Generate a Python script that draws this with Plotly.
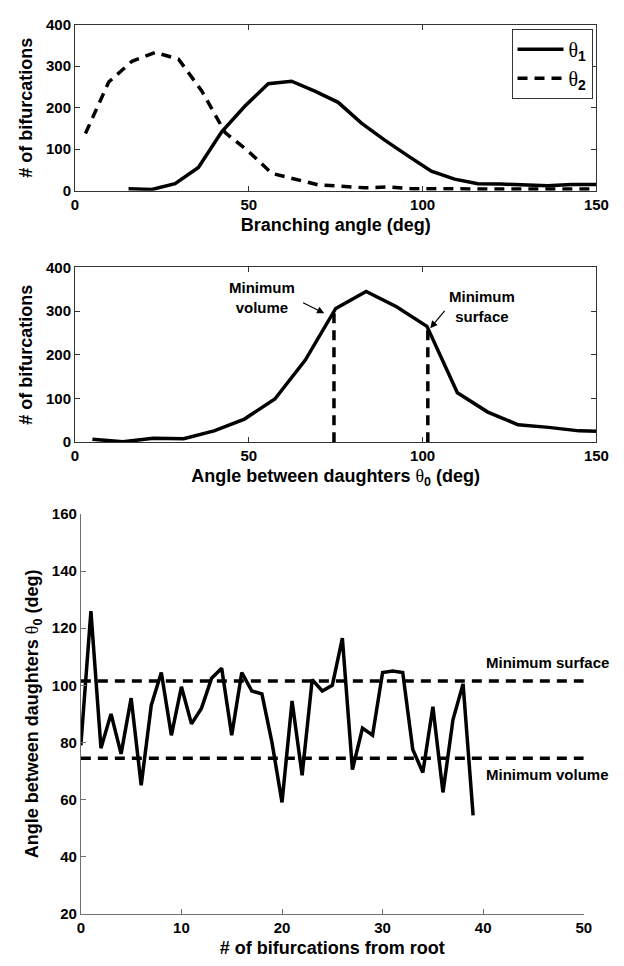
import plotly.graph_objects as go

# ---------------- data ----------------
theta1_x = [15.4, 22.1, 28.8, 35.5, 42.2, 48.9, 55.6, 62.3, 69.0, 75.7, 82.4,
            89.1, 95.8, 102.5, 109.2, 115.9, 122.6, 129.3, 136.0, 142.7, 150.0]
theta1_y = [5, 3, 17, 56, 142, 204, 258, 264, 240, 213, 163,
            122, 84, 47, 28, 17, 16, 15, 12, 15, 15]

theta2_x = [3.0, 9.7, 16.4, 23.1, 29.8, 36.5, 43.2, 49.9, 56.6, 63.3, 70.0, 76.7,
            83.4, 90.1, 96.8, 103.5, 110.2, 116.9, 123.6, 130.3, 137.0, 143.7, 150.0]
theta2_y = [138, 262, 312, 333, 317, 240, 140, 95, 42, 29, 14, 11,
            7, 9, 5, 5, 4, 4, 4, 4, 4, 4, 4]

theta0_x = [5, 13.75, 22.5, 31.25, 40, 48.75, 57.5, 66.25, 75, 83.75, 92.5,
            101.25, 110, 118.75, 127.5, 136.25, 145, 153.75]
theta0_y = [7, 1, 9, 8, 26, 53, 99, 188, 306, 345, 310,
            265, 113, 69, 40, 34, 26, 25]

min_volume_angle = 74.5
min_surface_angle = 101.5
marker_line_tops = [300, 262]

gen_y = [79, 126, 78, 90, 76, 95.5, 65, 93, 104.5, 82.5,
         99.5, 86.5, 92, 102.5, 106, 82.5, 104.5, 98, 97, 80,
         59, 94.5, 68.5, 102, 98, 100, 116.5, 70.5, 85, 82.5,
         104.5, 105, 104.5, 77.5, 69.5, 92.5, 62.5, 88, 100.5, 54.5]
gen_x = list(range(len(gen_y)))
gen_range = [0, 50]

# ---------------- style ----------------
FONT = "Liberation Sans, Arial, sans-serif"
SERIF = "Liberation Serif"
AX = "#333333"
AX3 = "#707070"
LW = 3.5
DASH = "10px,7px"
W, H = 624, 966


def dom_x(a, b):
    return [a / W, b / W]


def dom_y(top, bottom):
    return [1 - bottom / H, 1 - top / H]


tickfont = dict(family=FONT, size=15, color="black", weight="bold")
titlefont = dict(family=FONT, size=18, color="black", weight="bold")
theta_html = "<span style='font-family:%s;font-weight:normal'>θ</span><sub>0</sub>" % SERIF

fig = go.Figure()

# top panel
fig.add_trace(go.Scatter(x=theta1_x, y=theta1_y, mode="lines", xaxis="x", yaxis="y",
                         line=dict(color="black", width=LW),
                         name="<span style='font-family:%s'>θ</span><sub><b>1</b></sub>" % SERIF))
fig.add_trace(go.Scatter(x=theta2_x, y=theta2_y, mode="lines", xaxis="x", yaxis="y",
                         line=dict(color="black", width=LW, dash=DASH),
                         name="<span style='font-family:%s'>θ</span><sub><b>2</b></sub>" % SERIF))

# middle panel
fig.add_trace(go.Scatter(x=theta0_x, y=theta0_y, mode="lines", xaxis="x2", yaxis="y2",
                         line=dict(color="black", width=LW), showlegend=False))
for ang, top in zip([min_volume_angle, min_surface_angle], marker_line_tops):
    fig.add_trace(go.Scatter(x=[ang, ang], y=[0, top], mode="lines", xaxis="x2", yaxis="y2",
                             line=dict(color="black", width=LW, dash=DASH), showlegend=False))

# bottom panel
fig.add_trace(go.Scatter(x=gen_x, y=gen_y, mode="lines", xaxis="x3", yaxis="y3",
                         line=dict(color="black", width=LW), showlegend=False))
for ang in [min_surface_angle, min_volume_angle]:
    fig.add_trace(go.Scatter(x=gen_range, y=[ang, ang], mode="lines", xaxis="x3", yaxis="y3",
                             line=dict(color="black", width=LW, dash=DASH), showlegend=False))

box_axis = dict(showline=True, linecolor=AX, linewidth=1, mirror="ticks", ticks="inside",
                ticklen=5, tickcolor=AX, showgrid=False, zeroline=False, tickfont=tickfont)
open_axis = dict(showline=True, linecolor=AX3, linewidth=1, mirror=False, ticks="inside",
                 ticklen=5, tickcolor=AX3, showgrid=False, zeroline=False, tickfont=tickfont)

fig.update_layout(
    width=W, height=H,
    margin=dict(l=0, r=0, t=0, b=0),
    paper_bgcolor="white", plot_bgcolor="white",
    font=dict(family=FONT, color="black"),
    showlegend=True,
    legend=dict(x=605 / W, y=1 - 20 / H, xanchor="right", yanchor="top",
                bordercolor="#333", borderwidth=1, bgcolor="white",
                itemwidth=46, tracegroupgap=0,
                font=dict(family=FONT, size=20, color="black")),
    xaxis=dict(box_axis, domain=dom_x(73, 609), range=[0, 150], tickvals=[0, 50, 100, 150],
               anchor="y", title=dict(text="Branching angle (deg)", font=titlefont, standoff=6)),
    yaxis=dict(box_axis, domain=dom_y(16, 185), range=[0, 400], tickvals=[0, 100, 200, 300, 400],
               anchor="x", title=dict(text="# of bifurcations", font=titlefont, standoff=8)),
    xaxis2=dict(box_axis, domain=dom_x(73, 609), range=[0, 150], tickvals=[0, 50, 100, 150],
                anchor="y2",
                title=dict(text="Angle between daughters " + theta_html + " (deg)", font=titlefont, standoff=6)),
    yaxis2=dict(box_axis, domain=dom_y(263, 441), range=[0, 400], tickvals=[0, 100, 200, 300, 400],
                anchor="x2", title=dict(text="# of bifurcations", font=titlefont, standoff=8)),
    xaxis3=dict(open_axis, domain=dom_x(79, 596), range=[0, 50], tickvals=[0, 10, 20, 30, 40, 50],
                anchor="y3", title=dict(text="# of bifurcations from root", font=titlefont, standoff=6)),
    yaxis3=dict(open_axis, domain=dom_y(514, 921), range=[20, 160],
                tickvals=[20, 40, 60, 80, 100, 120, 140, 160], anchor="x3",
                title=dict(text="Angle between daughters " + theta_html + " (deg)", font=titlefont, standoff=8)),
)

ann_font = dict(family=FONT, size=15, color="black", weight="bold")
annotations = [
    dict(x=53.7, y=332, xref="x2", yref="y2", text="Minimum<br>volume", showarrow=False, font=ann_font),
    dict(x=71.7, y=295, xref="x2", yref="y2", ax=65.2, ay=321, axref="x2", ayref="y2", text="",
         showarrow=True, arrowhead=2, arrowsize=1.2, arrowwidth=1.2, arrowcolor="black"),
    dict(x=117.2, y=310, xref="x2", yref="y2", text="Minimum<br>surface", showarrow=False, font=ann_font),
    dict(x=102.2, y=261, xref="x2", yref="y2", ax=106.7, ay=304, axref="x2", ayref="y2", text="",
         showarrow=True, arrowhead=2, arrowsize=1.2, arrowwidth=1.2, arrowcolor="black"),
    dict(x=40.1, y=108, xref="x3", yref="y3", text="Minimum surface", showarrow=False,
         xanchor="left", font=ann_font),
    dict(x=40.1, y=68.6, xref="x3", yref="y3", text="Minimum volume", showarrow=False,
         xanchor="left", font=ann_font),
]
fig.update_layout(annotations=annotations)

fig.write_html("out.html")
